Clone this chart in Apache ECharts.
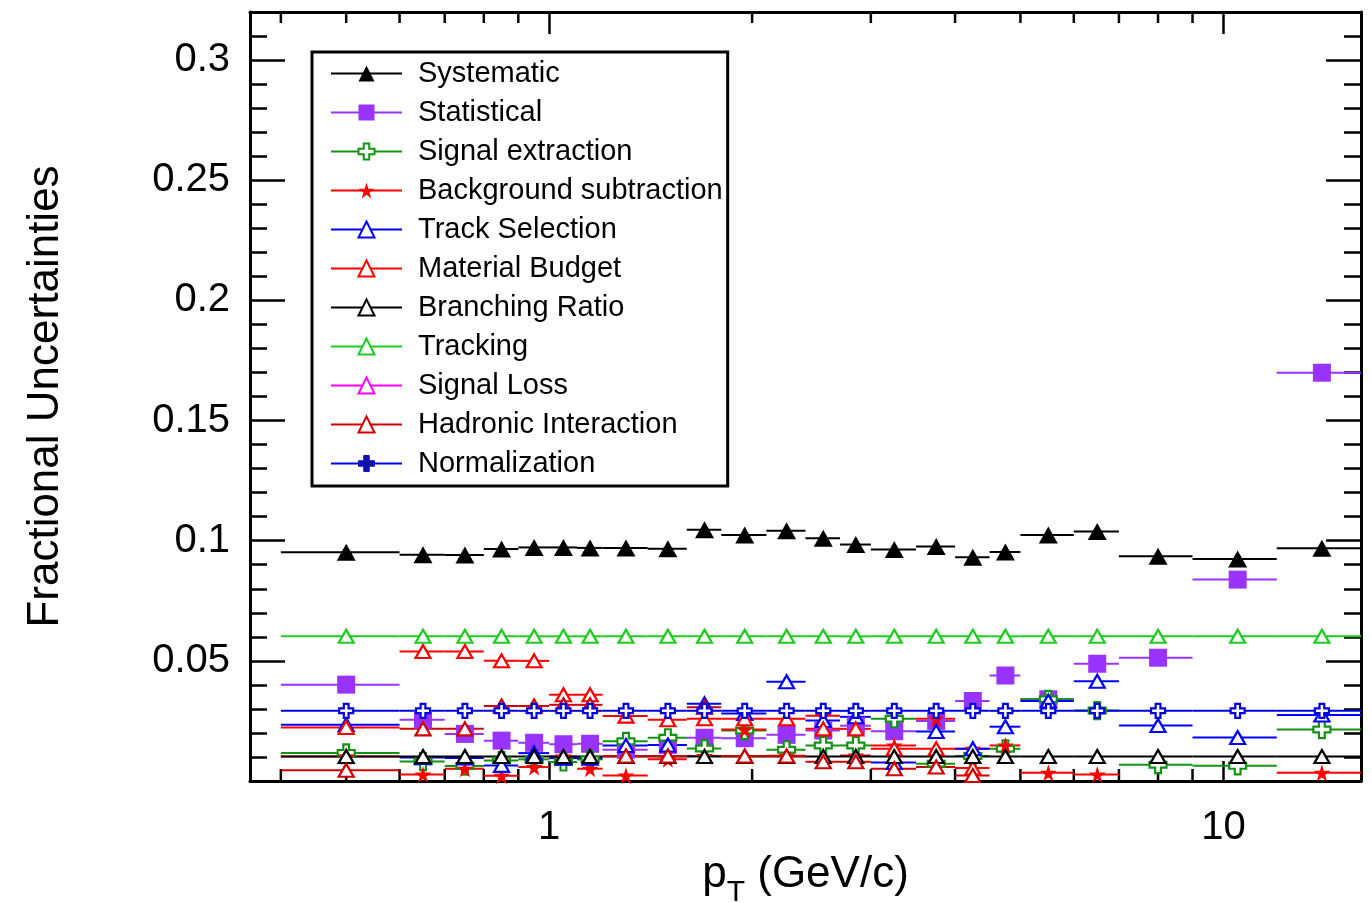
<!DOCTYPE html>
<html>
<head>
<meta charset="utf-8">
<title>Fractional Uncertainties vs pT</title>
<script src="https://cdn.jsdelivr.net/npm/echarts@6/dist/echarts.min.js"></script>
<style>
  html, body { margin: 0; padding: 0; background: #ffffff; }
  #chart { width: 1372px; height: 903px; }
</style>
</head>
<body>
<div id="chart"></div>
<script>
// pT bins (GeV/c): centres and edges
const binCenters = [0.5, 0.65, 0.75, 0.85, 0.95, 1.05, 1.15, 1.3, 1.5, 1.7, 1.95, 2.25, 2.55, 2.85, 3.25, 3.75, 4.25, 4.75, 5.5, 6.5, 8, 10.5, 14];
const binLow     = [0.4, 0.6, 0.7, 0.8, 0.9, 1.0, 1.1, 1.2, 1.4, 1.6, 1.8, 2.1, 2.4, 2.7, 3.0, 3.5, 4.0, 4.5, 5.0, 6.0, 7.0, 9.0, 12.0];
const binHigh    = [0.6, 0.7, 0.8, 0.9, 1.0, 1.1, 1.2, 1.4, 1.6, 1.8, 2.1, 2.4, 2.7, 3.0, 3.5, 4.0, 4.5, 5.0, 6.0, 7.0, 9.0, 12.0, 16.0];

// Fractional uncertainties per bin (null = no point in that bin)
const systematic       = [0.0952, 0.0942, 0.0940, 0.0965, 0.0972, 0.0972, 0.0970, 0.0970, 0.0966, 0.1046, 0.1024, 0.1041, 0.1010, 0.0984, 0.0963, 0.0976, 0.0931, 0.0953, 0.1024, 0.1038, 0.0935, 0.0924, 0.0969];
const statistical      = [0.0401, 0.0255, 0.0196, 0.0168, 0.0159, 0.0153, 0.0155, 0.0130, 0.0150, 0.0180, 0.0178, 0.0192, 0.0210, 0.0230, 0.0207, 0.0250, 0.0333, 0.0439, 0.0340, 0.0488, 0.0513, 0.0838, 0.1699];
const signalExtraction = [0.0117, 0.0081, 0.0062, 0.0085, 0.0090, 0.0079, 0.0090, 0.0165, 0.0180, 0.0135, 0.0210, 0.0130, 0.0148, 0.0148, 0.0259, 0.0072, 0.0104, 0.0134, 0.0340, 0.0293, 0.0068, 0.0063, 0.0214];
const backgroundSub    = [0.0102, 0.0027, 0.0051, 0.0022, 0.0058, 0.0102, 0.0051, 0.0023, 0.0090, 0.0104, 0.0214, 0.0105, 0.0272, 0.0106, 0.0148, 0.0259, 0.0134, 0.0148, 0.0034, 0.0027, null, null, 0.0034];
const trackSelection   = [0.0234, 0.0098, 0.0096, 0.0065, 0.0116, 0.0095, 0.0095, 0.0148, 0.0150, 0.0321, 0.0281, 0.0413, 0.0252, 0.0267, 0.0077, 0.0206, 0.0134, 0.0226, 0.0333, 0.0415, 0.0231, 0.0181, 0.0275];
const materialBudget   = [0.0223, 0.0539, 0.0539, 0.0500, 0.0500, 0.0359, 0.0359, 0.0270, 0.0255, 0.0259, 0.0259, 0.0259, 0.0217, 0.0217, 0.0134, 0.0134, 0.0054, null, null, null, null, null, null];
const branchingRatio   = [0.0102, 0.0102, 0.0102, 0.0102, 0.0102, 0.0102, 0.0102, 0.0102, 0.0102, 0.0102, 0.0102, 0.0102, 0.0102, 0.0102, 0.0102, 0.0102, 0.0102, 0.0102, 0.0102, 0.0102, 0.0102, 0.0102, 0.0102];
const tracking         = [0.0602, 0.0602, 0.0602, 0.0602, 0.0602, 0.0602, 0.0602, 0.0602, 0.0602, 0.0602, 0.0602, 0.0602, 0.0602, 0.0602, 0.0602, 0.0602, 0.0602, 0.0602, 0.0602, 0.0602, 0.0602, 0.0602, 0.0602];
const signalLoss       = [null, null, null, null, null, null, null, null, null, null, null, null, null, null, null, null, null, null, null, null, null, null, null];
const hadronic         = [0.0045, 0.0217, 0.0217, 0.0312, 0.0312, 0.0317, 0.0317, 0.0104, 0.0104, 0.0307, 0.0104, 0.0104, 0.0080, 0.0080, 0.0051, 0.0058, 0.0023, null, null, null, null, null, null];
const normalization    = [0.0292, 0.0292, 0.0292, 0.0292, 0.0292, 0.0292, 0.0292, 0.0292, 0.0292, 0.0292, 0.0292, 0.0292, 0.0292, 0.0292, 0.0292, 0.0292, 0.0292, 0.0292, 0.0292, 0.0292, 0.0292, 0.0292, 0.0292];

// Axis ticks
const xMajorLabels = ['1', '10'];
const xMinorTicks  = [0.4, 0.5, 0.6, 0.7, 0.8, 0.9, 2, 3, 4, 5, 6, 7, 8, 9];
const xRange = [0.36, 16];
const yRange = [0, 0.32];

const FONT = '"Liberation Sans", Arial, Helvetica, sans-serif';

// Marker shapes
const STAR  = 'path://M50,0 L61,35 L98,35 L68,57 L79,91 L50,70 L21,91 L32,57 L2,35 L39,35 Z';
const CROSS = 'path://M33,0 H67 V33 H100 V67 H67 V100 H33 V67 H0 V33 H33 Z';

const seriesDefs = [
  { name: 'Systematic',            values: systematic,       color: '#000000', symbol: 'triangle', size: [19, 17], hollow: false },
  { name: 'Statistical',           values: statistical,      color: '#9933ff', symbol: 'rect',     size: [18, 18], hollow: false },
  { name: 'Signal extraction',     values: signalExtraction, color: '#129412', symbol: CROSS,      size: [17, 17], hollow: true },
  { name: 'Background subtraction',values: backgroundSub,    color: '#ff0000', symbol: STAR,       size: [17, 17], hollow: false },
  { name: 'Track Selection',       values: trackSelection,   color: '#0000ff', symbol: 'triangle', size: [15, 13], hollow: true },
  { name: 'Material Budget',       values: materialBudget,   color: '#ff0000', symbol: 'triangle', size: [15, 13], hollow: true },
  { name: 'Branching Ratio',       values: branchingRatio,   color: '#000000', symbol: 'triangle', size: [15, 13], hollow: true },
  { name: 'Tracking',              values: tracking,         color: '#1fcc1f', symbol: 'triangle', size: [15, 13], hollow: true },
  { name: 'Signal Loss',           values: signalLoss,       color: '#ff00ff', symbol: 'triangle', size: [15, 13], hollow: true },
  { name: 'Hadronic Interaction',  values: hadronic,         color: '#d00000', symbol: 'triangle', size: [15, 13], hollow: true },
  { name: 'Normalization',         values: normalization,    color: '#0000e0', symbol: CROSS,      size: [14, 14], hollow: true }
];

// Horizontal bin-width bars, drawn through the axis scales
function barRenderer(color) {
  return function (params, api) {
    const y = api.value(2);
    const p1 = api.coord([api.value(0), y]);
    const p2 = api.coord([api.value(1), y]);
    return {
      type: 'line',
      shape: { x1: p1[0], y1: p1[1], x2: p2[0], y2: p2[1] },
      style: { stroke: color, lineWidth: 2 }
    };
  };
}

const series = [];

// Minor ticks of the logarithmic pT axis, bottom and top frame
series.push({
  type: 'custom',
  silent: true,
  clip: false,
  data: xMinorTicks.map(v => [v, yRange[0]]),
  encode: { x: 0, y: 1 },
  renderItem: function (params, api) {
    const v = api.value(0);
    const b = api.coord([v, yRange[0]]);
    const t = api.coord([v, yRange[1]]);
    return {
      type: 'group',
      children: [
        { type: 'line', shape: { x1: b[0], y1: b[1], x2: b[0], y2: b[1] - 12 }, style: { stroke: '#000', lineWidth: 2.5 } },
        { type: 'line', shape: { x1: t[0], y1: t[1], x2: t[0], y2: t[1] + 11 }, style: { stroke: '#000', lineWidth: 2.5 } }
      ]
    };
  }
});

seriesDefs.forEach(def => {
  const bars = [];
  const points = [];
  def.values.forEach((v, i) => {
    if (v === null) return;
    bars.push([binLow[i], binHigh[i], v]);
    points.push([binCenters[i], v]);
  });
  series.push({
    type: 'custom',
    silent: true,
    clip: true,
    data: bars,
    encode: { x: [0, 1], y: 2 },
    renderItem: barRenderer(def.color)
  });
  series.push({
    name: def.name,
    type: 'line',
    silent: true,
    data: points,
    symbol: def.symbol,
    symbolSize: def.size,
    showSymbol: true,
    showAllSymbol: true,
    lineStyle: { color: def.color, width: 2, opacity: 0 },
    itemStyle: {
      color: def.hollow ? '#ffffff' : def.color,
      borderColor: def.color,
      borderWidth: def.hollow ? 2.2 : 0
    },
    emphasis: { disabled: true }
  });
});

const legendData = seriesDefs.map(d => {
  const item = { name: d.name, lineStyle: { color: d.color, width: 2, opacity: 1 } };
  if (d.name === 'Normalization') item.itemStyle = { color: '#1010b0', borderColor: '#1010b0', borderWidth: 1 };
  return item;
});

const axisLineStyle = { color: '#000', width: 3 };
const tickStyle = { color: '#000', width: 2.5 };

const option = {
  animation: false,
  backgroundColor: '#ffffff',
  textStyle: { fontFamily: FONT },
  grid: { left: 250, right: 11, top: 12, bottom: 122, containLabel: false, outerBoundsMode: 'none' },
  legend: {
    orient: 'vertical',
    left: 312,
    top: 52,
    backgroundColor: '#ffffff',
    borderColor: '#000000',
    borderWidth: 3,
    borderRadius: 0,
    padding: [6, 5, 7, 18],
    itemWidth: 71,
    itemHeight: 20,
    itemGap: 8,
    selectedMode: false,
    textStyle: { fontSize: 29, fontFamily: FONT, color: '#000', lineHeight: 31, padding: [0, 0, 0, 11] },
    data: legendData
  },
  xAxis: [
    {
      type: 'log', logBase: 10, min: xRange[0], max: xRange[1], position: 'bottom',
      axisLine: { show: true, onZero: false, lineStyle: axisLineStyle },
      axisTick: { show: true, inside: true, length: 20, lineStyle: tickStyle },
      axisLabel: {
        show: true, fontSize: 40, color: '#000', fontFamily: FONT, margin: 27,
        showMinLabel: false, showMaxLabel: false,
        formatter: function (v) {
          const s = String(Math.round(v * 1000) / 1000);
          return xMajorLabels.indexOf(s) >= 0 ? s : '';
        }
      },
      splitLine: { show: false },
      name: '{p|p}{sub|T}{p| (GeV/c)}',
      nameLocation: 'middle',
      nameGap: 46,
      nameTextStyle: {
        rich: {
          p:   { fontSize: 44, fontFamily: FONT, color: '#000' },
          sub: { fontSize: 30, fontFamily: FONT, color: '#000', padding: [36, 0, 0, 0] }
        }
      }
    },
    {
      type: 'log', logBase: 10, min: xRange[0], max: xRange[1], position: 'top',
      axisLine: { show: true, onZero: false, lineStyle: axisLineStyle },
      axisTick: { show: true, inside: true, length: 22, lineStyle: tickStyle },
      axisLabel: { show: false },
      splitLine: { show: false }
    }
  ],
  yAxis: [
    {
      type: 'value', min: yRange[0], max: yRange[1], interval: 0.05, position: 'left',
      axisLine: { show: true, onZero: false, lineStyle: axisLineStyle },
      axisTick: { show: true, inside: true, length: 35, lineStyle: tickStyle },
      axisLabel: {
        show: true, fontSize: 40, color: '#000', fontFamily: FONT, margin: 20,
        showMinLabel: false, showMaxLabel: false,
        formatter: function (v) { return v === 0 ? '' : String(Math.round(v * 100) / 100); }
      },
      splitLine: { show: false },
      name: 'Fractional Uncertainties',
      nameLocation: 'middle',
      nameGap: 182,
      nameTextStyle: { fontSize: 44, fontFamily: FONT, color: '#000' }
    },
    {
      type: 'value', min: yRange[0], max: yRange[1], interval: 0.01, position: 'left',
      axisLine: { show: false, onZero: false },
      axisTick: { show: true, inside: true, length: 17, lineStyle: tickStyle },
      axisLabel: { show: false },
      splitLine: { show: false }
    },
    {
      type: 'value', min: yRange[0], max: yRange[1], interval: 0.05, position: 'right',
      axisLine: { show: true, onZero: false, lineStyle: axisLineStyle },
      axisTick: { show: true, inside: true, length: 35, lineStyle: tickStyle },
      axisLabel: { show: false },
      splitLine: { show: false }
    },
    {
      type: 'value', min: yRange[0], max: yRange[1], interval: 0.01, position: 'right',
      axisLine: { show: false, onZero: false },
      axisTick: { show: true, inside: true, length: 17, lineStyle: tickStyle },
      axisLabel: { show: false },
      splitLine: { show: false }
    }
  ],
  series: series
};

const chart = echarts.init(document.getElementById('chart'), null, { renderer: 'canvas' });
chart.setOption(option);
</script>
</body>
</html>
